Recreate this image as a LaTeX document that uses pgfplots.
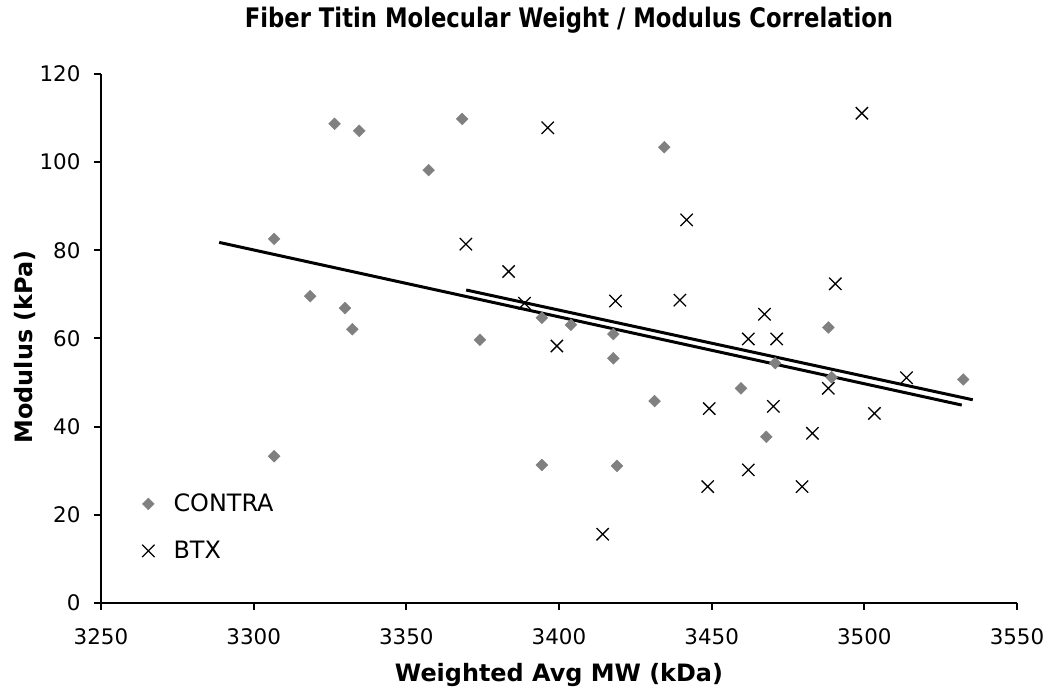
\documentclass[border=0pt]{standalone}
\usepackage{pgfplots}
\pgfplotsset{compat=1.18}
\usepackage{fontspec}
\setmainfont{DejaVu Sans}
\newfontfamily\titlefont[FakeStretch=0.845]{DejaVu Sans}
\definecolor{contra}{RGB}{128,128,128}
\begin{document}
\begin{tikzpicture}
\begin{axis}[
  name=ax,
  scale only axis,
  width=916bp, height=529bp,
  xmin=3250, xmax=3550, ymin=0, ymax=120,
  xtick={3250,3300,3350,3400,3450,3500,3550},
  ytick={0,20,40,60,80,100,120},
  axis x line*=bottom, axis y line*=left,
  axis line style={-, line width=2bp, black},
  tick align=outside,
  major tick length=7bp,
  tick style={line width=2bp, black},
  ticklabel style={font=\fontsize{21.5}{24}\selectfont},
  xticklabel style={yshift=-15bp},
  yticklabel style={xshift=-10bp},
  /pgf/number format/assume math mode=true,
  /pgf/number format/1000 sep={},
  xlabel={Weighted Avg MW (kDa)},
  ylabel={Modulus (kPa)},
  xlabel style={font=\bfseries\fontsize{24}{28}\selectfont, at={(axis description cs:0.5,-0.1493)}, anchor=base},
  ylabel style={font=\bfseries\fontsize{24}{28}\selectfont, at={(axis description cs:-0.0753,0.484)}, anchor=base},
  legend style={draw=none, fill=none, at={(axis description cs:0.0415,0.141)}, anchor=west,
    font=\fontsize{24}{28}\selectfont, row sep=24bp,
    nodes={inner sep=0pt, text height=18bp, text depth=5bp},
    /tikz/every odd column/.append style={column sep=19bp}},
  legend cell align=left,
  legend image code/.code={\draw[#1] plot coordinates {(0bp,1bp)};},
]
\addplot[only marks, mark=square*, mark size=4.2bp, mark options={rotate=45, fill=contra, draw=contra}] coordinates {
(3306.7,33.3) (3306.7,82.6) (3318.5,69.6) (3326.5,108.7) (3334.6,107.1)
(3329.9,66.9) (3332.3,62.1) (3357.3,98.2) (3368.3,109.8) (3374.1,59.7)
(3394.4,64.7) (3403.9,63.1) (3417.8,61.0) (3417.8,55.5) (3431.3,45.8)
(3394.4,31.3) (3419.0,31.1) (3434.5,103.4) (3459.6,48.7) (3467.9,37.7)
(3470.8,54.4) (3488.2,62.5) (3489.3,51.2) (3532.4,50.7)
};
\addlegendentry{CONTRA}
\addplot[only marks, mark=x, mark size=8.7bp, mark options={line width=1.3bp, draw=black}] coordinates {
(3369.5,81.4) (3383.5,75.2) (3396.3,107.8) (3388.7,68.0) (3418.5,68.5)
(3399.3,58.3) (3439.6,68.7) (3467.3,65.5) (3462.0,59.9) (3471.3,59.9)
(3449.2,44.1) (3470.2,44.6) (3462.0,30.2) (3448.7,26.4) (3479.6,26.4)
(3414.3,15.6) (3441.8,86.9) (3499.2,111.1) (3490.5,72.4) (3513.8,51.1)
(3488.2,48.7) (3503.3,43.0) (3483.0,38.5)
};
\addlegendentry{BTX}
\addplot[black, line width=3bp, forget plot] coordinates {(3288.7,81.8) (3531.9,44.9)};
\addplot[black, line width=3bp, forget plot] coordinates {(3369.6,71.0) (3535.5,46.1)};
\end{axis}
\node[anchor=base, font=\titlefont\bfseries\fontsize{27}{32}\selectfont] at ([shift={(468bp,575bp)}]ax.south west) {Fiber Titin Molecular Weight / Modulus Correlation};
\pgfresetboundingbox
\path ([shift={(-101bp,-96bp)}]ax.south west) rectangle ([shift={(33bp,74bp)}]ax.north east);
\end{tikzpicture}
\end{document}
